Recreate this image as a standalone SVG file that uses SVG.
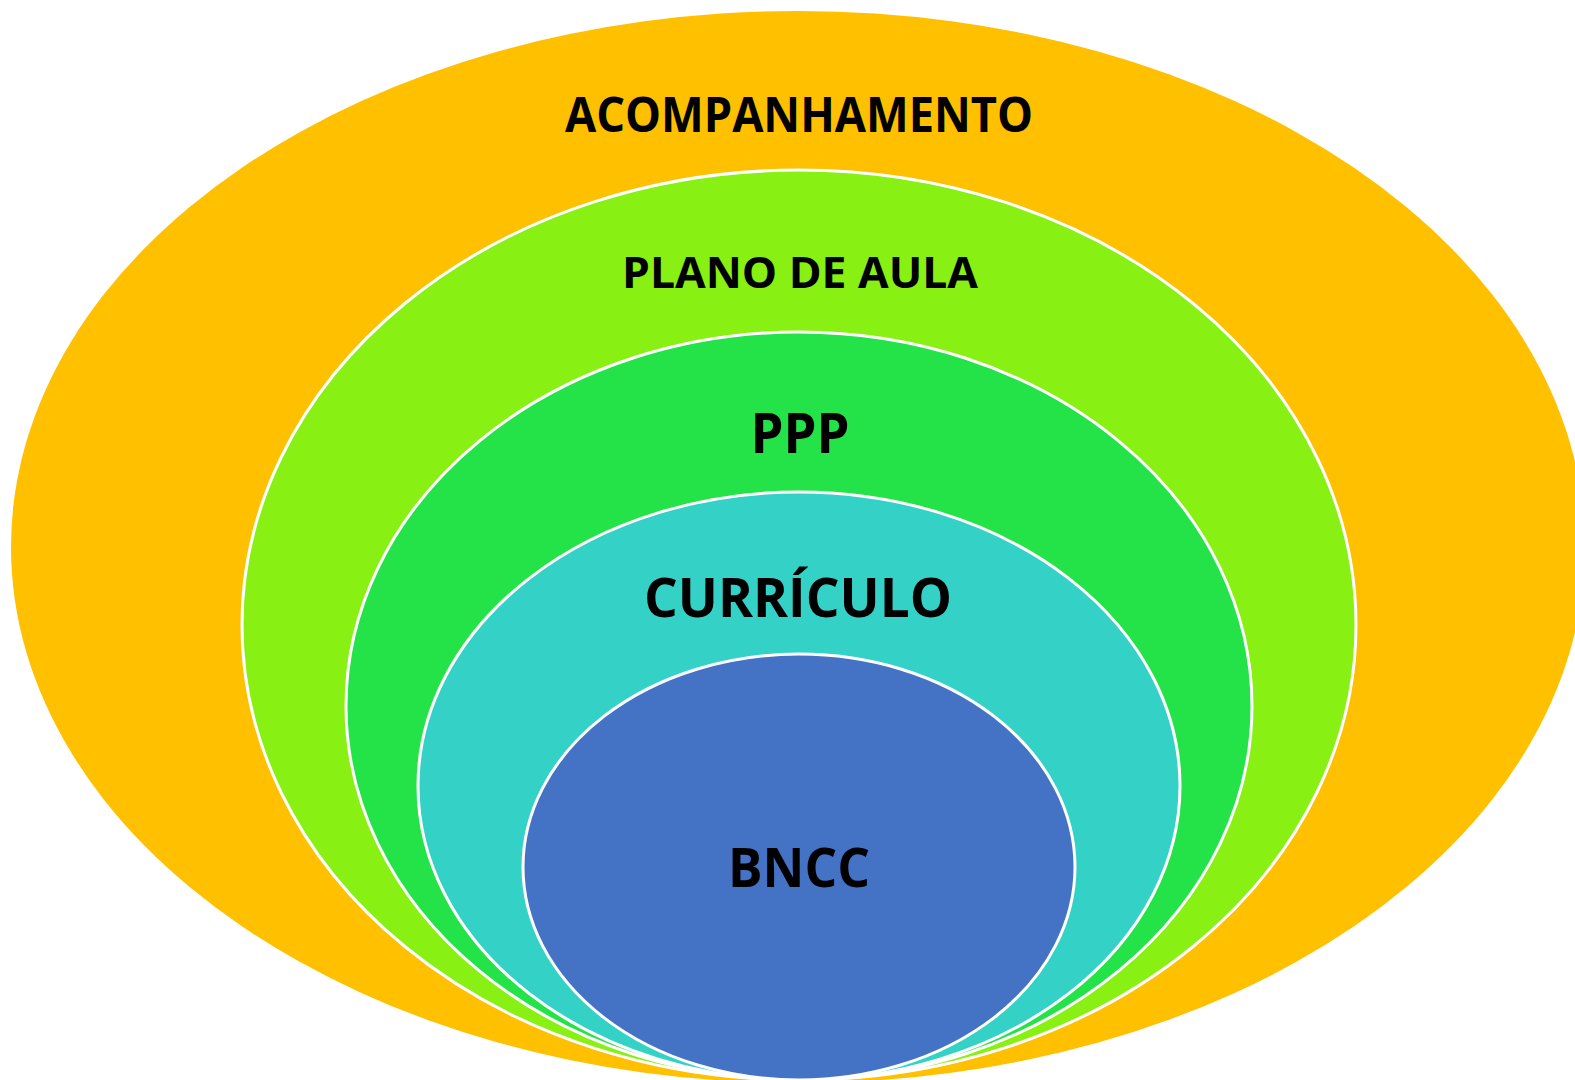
<svg xmlns="http://www.w3.org/2000/svg" width="1575" height="1080" viewBox="0 0 1575 1080">
<style>
.ring{stroke:#ffffff;stroke-width:3}
.lbl{font-family:"Open Sans","Noto Sans","Liberation Sans",sans-serif;font-weight:bold;fill:#000000;text-anchor:middle}
</style>
<rect width="1575" height="1080" fill="#ffffff"/>
<g id="acompanhamento">
<ellipse cx="798" cy="547" rx="787" ry="536" fill="#FFC000"/>
<text class="lbl" x="799" y="132" font-size="49" textLength="468" lengthAdjust="spacingAndGlyphs">ACOMPANHAMENTO</text>
</g>
<g id="plano-de-aula">
<ellipse class="ring" cx="799" cy="625" rx="557" ry="455" fill="#88F012"/>
<text class="lbl" x="800" y="288" font-size="43" textLength="356" lengthAdjust="spacingAndGlyphs">PLANO DE AULA</text>
</g>
<g id="ppp">
<ellipse class="ring" cx="799" cy="706" rx="453" ry="374" fill="#23E349"/>
<text class="lbl" x="800" y="453" font-size="56" textLength="99" lengthAdjust="spacingAndGlyphs">PPP</text>
</g>
<g id="curriculo">
<ellipse class="ring" cx="799" cy="786" rx="381" ry="294" fill="#34D2C6"/>
<text class="lbl" x="798" y="617" font-size="54" textLength="308" lengthAdjust="spacingAndGlyphs">CURRÍCULO</text>
</g>
<g id="bncc">
<ellipse class="ring" cx="799" cy="867" rx="276" ry="213" fill="#4472C4"/>
<text class="lbl" x="799" y="887" font-size="54" textLength="142" lengthAdjust="spacingAndGlyphs">BNCC</text>
</g>
<g id="connectors"/>
</svg>
